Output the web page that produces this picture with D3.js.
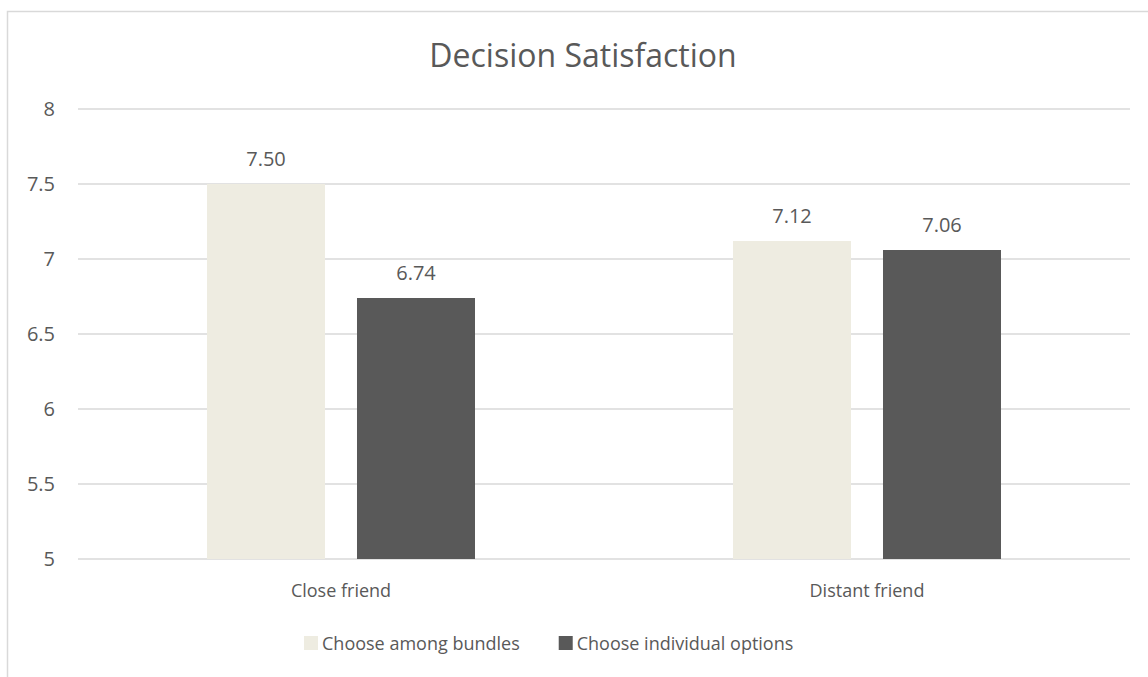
<!DOCTYPE html>
<html>
<head>
<meta charset="utf-8">
<script src="https://cdn.jsdelivr.net/npm/d3@7"></script>
<style>
  body { margin: 0; background: #fff; }
  text { font-family: "Open Sans", sans-serif; fill: #595959; }
</style>
</head>
<body>
<div id="chart"></div>
<script>
var categories = ["Close friend", "Distant friend"]
var series = ["Choose among bundles", "Choose individual options"]
var bundles = [7.50, 7.12]
var individual = [6.74, 7.06]
var yTicks = [5, 5.5, 6, 6.5, 7, 7.5, 8]
var colors = ["#eeece1", "#595959"]

var width = 1148, height = 677
var plotLeft = 78, plotRight = 1130, plotTop = 109, plotBottom = 559

var svg = d3.select("#chart").append("svg")
  .attr("width", width).attr("height", height)

// outer chart border (runs off the right and bottom edges)
svg.append("rect")
  .attr("x", 7.5).attr("y", 11.5)
  .attr("width", width).attr("height", height)
  .attr("fill", "none").attr("stroke", "#d9d9d9").attr("stroke-width", 1.5)

var x0 = d3.scaleBand().domain(categories).range([plotLeft, plotRight]).padding(0)
var x1 = d3.scaleBand().domain(series).range([0, x0.bandwidth()])
  .paddingInner(0.2133).paddingOuter(0.86)
var y = d3.scaleLinear().domain([5, 8]).range([plotBottom, plotTop])

// gridlines
svg.append("g").selectAll("line")
  .data(yTicks)
  .enter().append("line")
    .attr("x1", plotLeft).attr("x2", plotRight)
    .attr("y1", function (d) { return y(d) }).attr("y2", function (d) { return y(d) })
    .attr("stroke", "#d9d9d9").attr("stroke-width", 1.5)

// y tick labels
svg.append("g").selectAll("text")
  .data(yTicks)
  .enter().append("text")
    .attr("x", 55)
    .attr("y", function (d) { return y(d) + 7 })
    .attr("text-anchor", "end")
    .attr("font-size", 20)
    .text(function (d) { return d })

var rows = categories.map(function (c, i) {
  return { cat: c, vals: [bundles[i], individual[i]] }
})

var groups = svg.append("g").selectAll("g")
  .data(rows)
  .enter().append("g")
    .attr("transform", function (d) { return "translate(" + x0(d.cat) + ",0)" })

groups.selectAll("rect")
  .data(function (d) { return d.vals.map(function (v, j) { return { s: series[j], v: v, j: j } }) })
  .enter().append("rect")
    .attr("x", function (d) { return x1(d.s) })
    .attr("width", x1.bandwidth())
    .attr("y", function (d) { return y(d.v) })
    .attr("height", function (d) { return y(5) - y(d.v) })
    .attr("fill", function (d) { return colors[d.j] })

groups.selectAll("text.val")
  .data(function (d) { return d.vals.map(function (v, j) { return { s: series[j], v: v } }) })
  .enter().append("text")
    .attr("class", "val")
    .attr("x", function (d) { return x1(d.s) + x1.bandwidth() / 2 })
    .attr("y", function (d) { return y(d.v) - 18 })
    .attr("text-anchor", "middle")
    .attr("font-size", 20)
    .text(function (d) { return d3.format(".2f")(d.v) })

// category labels
svg.append("g").selectAll("text")
  .data(categories)
  .enter().append("text")
    .attr("x", function (d) { return x0(d) + x0.bandwidth() / 2 })
    .attr("y", 597)
    .attr("text-anchor", "middle")
    .attr("font-size", 18)
    .text(function (d) { return d })

// title
svg.append("text")
  .attr("x", 583).attr("y", 67)
  .attr("text-anchor", "middle")
  .attr("font-size", 32)
  .text("Decision Satisfaction")

// legend
var legend = svg.append("g")
var lx = 304
series.forEach(function (s, i) {
  legend.append("rect")
    .attr("x", lx).attr("y", 636)
    .attr("width", 14).attr("height", 14)
    .attr("fill", colors[i])
  var t = legend.append("text")
    .attr("x", lx + 18).attr("y", 650)
    .attr("font-size", 18)
    .text(s)
  lx += 18 + t.node().getComputedTextLength() + 39
})
</script>
</body>
</html>
